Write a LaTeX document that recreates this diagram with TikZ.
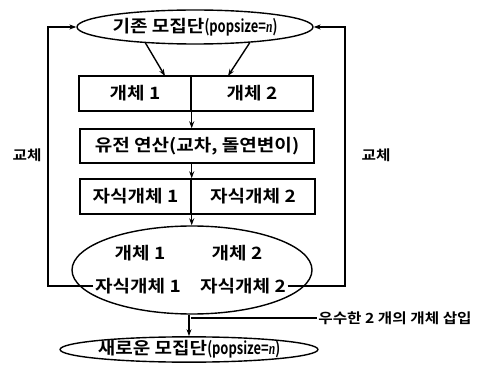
\documentclass[tikz,border=0pt]{standalone}
\usepackage{fontspec}
\usepackage{graphicx}
\setmainfont{Noto Sans CJK KR}[BoldFont={* Bold},FakeStretch=1.12]
\newfontfamily\serifit{Liberation Serif}[UprightFont={* Italic}]
\newcommand{\popsz}{\scalebox{0.68}[1]{(popsize={\serifit n})}}
\usetikzlibrary{shapes.geometric,arrows.meta,calc}
\begin{document}
\begin{tikzpicture}[x=1pt,y=-1pt,
  line width=1.4pt,
  ell/.style={draw,ellipse,inner sep=0pt},
  bx/.style={draw,rectangle,inner sep=0pt},
  txt/.style={font=\fontsize{17}{19}\selectfont\bfseries,inner sep=1pt},
  small/.style={font=\fontsize{14}{16}\selectfont\bfseries,inner sep=1pt},
  arr/.style={-{Stealth[length=7pt,width=5pt]}}]
\useasboundingbox (0,0) rectangle (479,366);
% top ellipse
\node[ell,minimum width=224pt,minimum height=34pt,txt] (top) at (195,27) {기존 모집단\popsz};
% box 1
\node[bx,minimum width=112pt,minimum height=35pt,txt] (b1l) at (135,93.5) {개체 1};
\node[bx,minimum width=122pt,minimum height=35pt,txt] (b1r) at (252,93.5) {개체 2};
% box 2
\node[bx,minimum width=234pt,minimum height=34pt,txt] (b2) at (197,146) {유전 연산(교차, 돌연변이)};
% box 3
\node[bx,minimum width=111pt,minimum height=35pt,txt] (b3l) at (135.5,196.5) {자식개체 1};
\node[bx,minimum width=124pt,minimum height=35pt,txt] (b3r) at (253,196.5) {자식개체 2};
% big ellipse
\node[ell,minimum width=240pt,minimum height=88pt] (big) at (192,270) {};
\node[txt] (e1) at (140,253) {개체 1};
\node[txt] (e2) at (237,253) {개체 2};
\node[txt] (c1) at (138,286) {자식개체 1};
\node[txt] (c2) at (243,286) {자식개체 2};
% new population
\node[ell,minimum width=228pt,minimum height=25pt,txt,inner sep=0pt] (new) at (189,349.5) {새로운 모집단\popsz};
% labels
\node[small] (lk) at (27,155) {교체};
\node[small] (rk) at (376,155) {교체};
\node[small] (ins) at (395,318) {우수한 2 개의 개체 삽입};
% coordinates
\coordinate (t1) at (165,76);
\coordinate (t2) at (228,76);
\coordinate (lx) at (48,286);
\coordinate (rx) at (345,286);
\coordinate (j) at (191,318);
% connectors
\draw[arr] (top.198) -- (t1);
\draw[arr] (top.344) -- (t2);
\draw[arr] (b1l.south east) -- (b2.north -| b1l.east);
\draw[arr] (b2.south -| b3l.east) -- (b3l.north east);
\draw[arr] (b3l.south east) -- (big.north -| b3l.east);
\draw[arr] (c1.west) -- (lx) |- (top.west);
\draw[arr] (c2.east) -- (rx) |- (top.east);
\draw[arr] (big.south -| new.north) -- (new.north);
\draw (ins.west) -- (j);
\end{tikzpicture}
\end{document}
